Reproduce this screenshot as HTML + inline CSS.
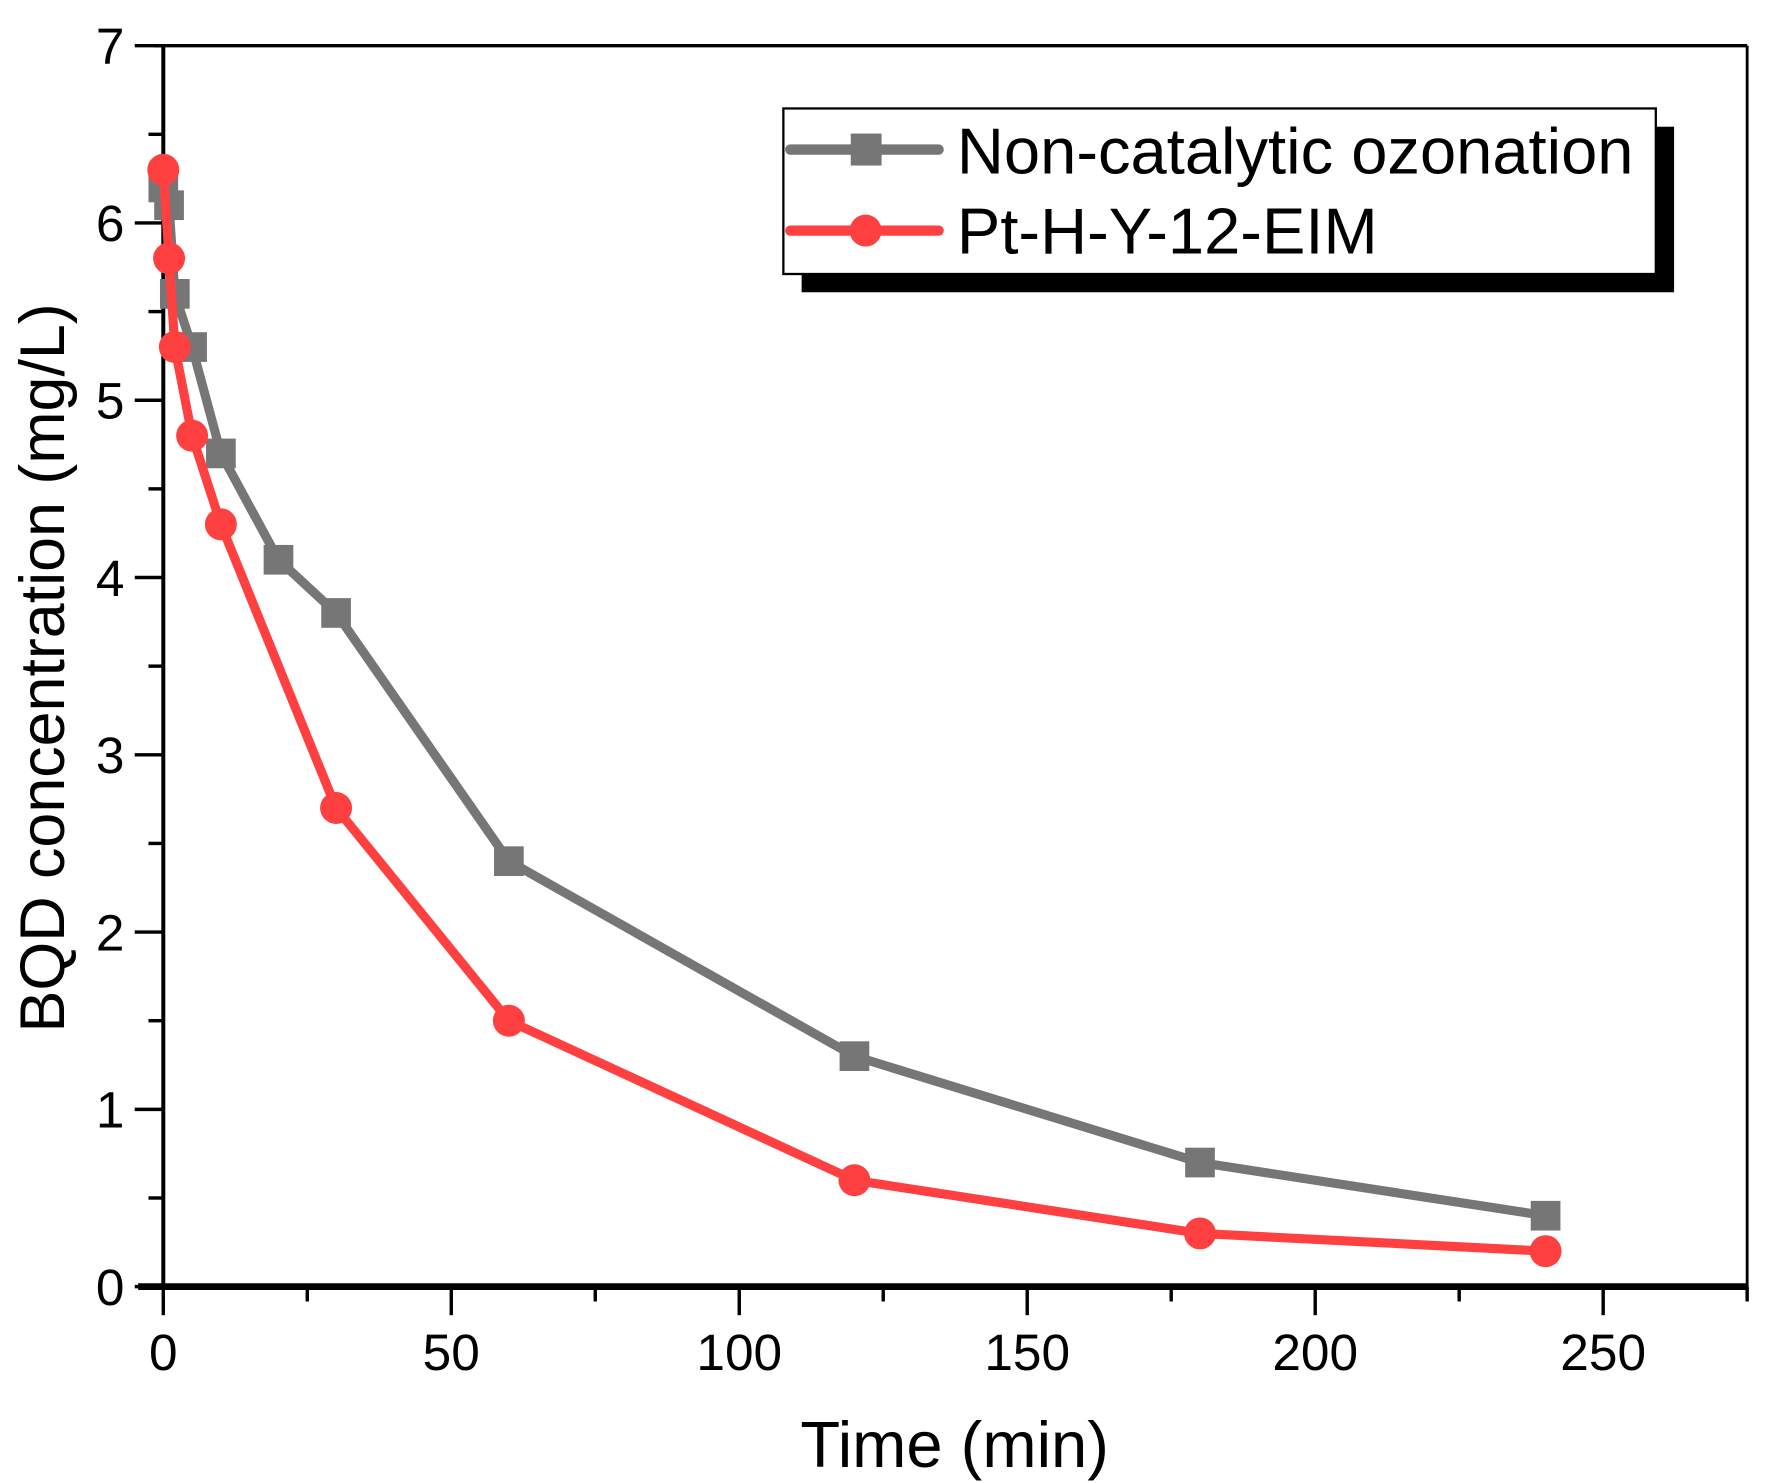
<!DOCTYPE html>
<html><head><meta charset="utf-8"><style>
html,body{margin:0;padding:0;background:#fff;}
svg{display:block;font-family:"Liberation Sans",Arial,sans-serif;}
</style></head><body>
<svg id="chart" width="1770" height="1483" viewBox="0 0 1550 1299" preserveAspectRatio="none" xmlns="http://www.w3.org/2000/svg">
<g id="axes"></g>
<g id="series"></g>
<g id="legend">
  <rect x="702" y="111" width="764" height="145" fill="#000"/>
  <rect x="686" y="95" width="764" height="145" fill="#fff" stroke="#000" stroke-width="2"/>
  <line x1="692" y1="131" x2="822" y2="131" stroke="#767676" stroke-width="9" stroke-linecap="round"/>
  <rect x="745" y="117" width="27" height="28" fill="#767676"/>
  <text x="838" y="152" font-size="57">Non-catalytic ozonation</text>
  <line x1="692" y1="202" x2="822" y2="202" stroke="#ff4040" stroke-width="9" stroke-linecap="round"/>
  <circle cx="758" cy="202" r="14" fill="#ff4040"/>
  <text x="838" y="222" font-size="57">Pt-H-Y-12-EIM</text>
</g>
<text x="836" y="1285" font-size="57" text-anchor="middle">Time (min)</text>
<text transform="translate(56,585) rotate(-90)" font-size="55" text-anchor="middle">BQD concentration (mg/L)</text>
</svg>
<script>
const grayTimes = [0, 1, 2, 5, 10, 20, 30, 60, 120, 180, 240];
const grayValues = [6.2, 6.1, 5.6, 5.3, 4.7, 4.1, 3.8, 2.4, 1.3, 0.7, 0.4];
const redTimes = [0, 1, 2, 5, 10, 30, 60, 120, 180, 240];
const redValues = [6.3, 5.8, 5.3, 4.8, 4.3, 2.7, 1.5, 0.6, 0.3, 0.2];
const xTickLabels = [0, 50, 100, 150, 200, 250];
const yTickLabels = [0, 1, 2, 3, 4, 5, 6, 7];

const NS = 'http://www.w3.org/2000/svg';
const L = 143, R = 1530, T = 40, B = 1127;
const xMax = 275, yMax = 7;
function xs(v){ return L + (v/xMax)*(R-L); }
function ys(v){ return B - (v/yMax)*(B-T); }
function mk(tag, attrs, parent){
  const e = document.createElementNS(NS, tag);
  for (const k in attrs) e.setAttribute(k, attrs[k]);
  parent.appendChild(e);
  return e;
}
const axes = document.getElementById('axes');
const series = document.getElementById('series');

let f;
f = mk('line', {x1:L-8, y1:T, x2:R, y2:T, stroke:'#000', 'stroke-width':3}, axes);


f = mk('line', {x1:R, y1:T, x2:R, y2:B, stroke:'#000', 'stroke-width':2.5}, axes);


f = mk('line', {x1:L, y1:T, x2:L, y2:B, stroke:'#000', 'stroke-width':3.5}, axes);


f = mk('line', {x1:L-22, y1:B, x2:R, y2:B, stroke:'#000', 'stroke-width':6}, axes);



for (let v = 0; v <= xMax; v += 25) {
  const major = v % 50 === 0;
  const t = mk('line', {x1:xs(v), y1:B, x2:xs(v), y2:B + (major ? 25 : 13), stroke:'#000', 'stroke-width':3}, axes);
  
  
}
xTickLabels.forEach(v => {
  const t = mk('text', {x:xs(v), y:B+73, 'font-size':45, 'text-anchor':'middle'}, axes);
  t.textContent = v;
  
  
});
for (let v = 0; v <= yMax; v += 0.5) {
  const major = Number.isInteger(v);
  const t = mk('line', {x1:L - (major ? 25 : 13), y1:ys(v), x2:L, y2:ys(v), stroke:'#000', 'stroke-width':3}, axes);
  
  
}
yTickLabels.forEach(v => {
  const t = mk('text', {x:L-34, y:ys(v)+16, 'font-size':45, 'text-anchor':'end'}, axes);
  t.textContent = v;
  
  
});

function drawSeries(times, vals, color, shape, name){
  const pts = times.map((t,i) => xs(t) + ',' + ys(vals[i])).join(' ');
  const pl = mk('polyline', {points:pts, fill:'none', stroke:color, 'stroke-width':8, 'stroke-linejoin':'round'}, series);
  
  
  times.forEach((t,i) => {
    let m;
    if (shape === 'square') m = mk('rect', {x:xs(t)-13, y:ys(vals[i])-13, width:26, height:26, fill:color}, series);
    else m = mk('circle', {cx:xs(t), cy:ys(vals[i]), r:14, fill:color}, series);
    
    
  });
}
drawSeries(grayTimes, grayValues, '#767676', 'square', 'non-catalytic');
drawSeries(redTimes, redValues, '#ff4040', 'circle', 'pt-h-y-12-eim');
</script>
</body></html>
